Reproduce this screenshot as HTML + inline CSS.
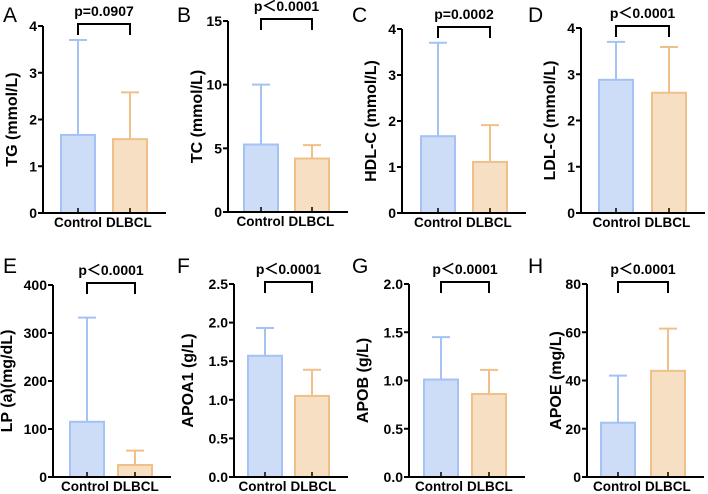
<!DOCTYPE html>
<html><head><meta charset="utf-8"><style>
body{margin:0;background:#fff;}
svg{display:block;font-family:"Liberation Sans",Arial,sans-serif;}
</style></head><body>
<svg id="fig" width="708" height="494" viewBox="0 0 708 494"></svg>
<script>
const panelLetters=["A","B","C","D","E","F","G","H"];
const yTitles=["TG (mmol/L)","TC (mmol/L)","HDL-C (mmol/L)","LDL-C (mmol/L)","LP (a)(mg/dL)","APOA1 (g/L)","APOB (g/L)","APOE (mg/L)"];
const pLabels=["p=0.0907","p\uFF1C0.0001","p=0.0002","p\uFF1C0.0001","p\uFF1C0.0001","p\uFF1C0.0001","p\uFF1C0.0001","p\uFF1C0.0001"];
const categories=["Control","DLBCL"];
const controlMeans=[1.67,5.3,1.67,2.88,115,1.57,1.01,22.5];
const controlUpper=[3.7,10,3.7,3.7,332,1.93,1.45,42];
const dlbclMeans=[1.58,4.2,1.11,2.6,25,1.05,0.86,44];
const dlbclUpper=[2.58,5.25,1.91,3.59,55,1.39,1.11,61.5];
const yMax=[4,15,4,4,400,2.5,2,80];
const yTicks=[[0,1,2,3,4],[0,5,10,15],[0,1,2,3,4],[0,1,2,3,4],[0,100,200,300,400],[0,0.5,1.0,1.5,2.0,2.5],[0,0.5,1.0,1.5,2.0],[0,20,40,60,80]];
const tickDecimals=[0,0,0,0,0,1,1,0];
const L=[
 {ax:43,top:26,bot:213,c1:78,c2:130,lx:3,ly:22},
 {ax:228,top:21,bot:212,c1:261,c2:312,lx:177,ly:22},
 {ax:402,top:29,bot:213,c1:438,c2:490,lx:352,ly:22},
 {ax:581,top:28,bot:213,c1:616,c2:669,lx:528,ly:22},
 {ax:53,top:285,bot:477,c1:87,c2:135,lx:3,ly:273},
 {ax:234,top:284,bot:477,c1:265,c2:312,lx:177,ly:273},
 {ax:409,top:284,bot:477,c1:441,c2:489,lx:352,ly:273},
 {ax:587,top:284,bot:477,c1:618,c2:668,lx:528,ly:273}
];
const svg=document.getElementById('fig');
const NS="http://www.w3.org/2000/svg";
function mk(tag,attrs,parent,text){const e=document.createElementNS(NS,tag);for(const k in attrs)e.setAttribute(k,attrs[k]);if(text!==undefined)e.textContent=text;(parent||svg).appendChild(e);return e;}
for(let i=0;i<8;i++){
 const l=L[i];
 const g=mk('g',{});
 
 
 const y=v=>l.bot-(v/yMax[i])*(l.bot-l.top);
 const bw=34;
 const t=mk('text',{x:l.lx,y:l.ly,'font-size':21,fill:'#000'},g,panelLetters[i]);
 
 
 const mid=(l.c1+l.c2)/2;
 const series=[[controlMeans[i],controlUpper[i],l.c1,'#cddcf7','#a4c2f4'],[dlbclMeans[i],dlbclUpper[i],l.c2,'#f6dfc2','#f0c08a']];
 series.forEach((s,k)=>{
  const r=mk('rect',{x:s[2]-bw/2,y:y(s[0]),width:bw,height:l.bot-y(s[0]),fill:s[3],stroke:s[4],'stroke-width':2},g);
  
  
  const eb=mk('path',{d:`M${s[2]},${y(s[0])}V${y(s[1])}M${s[2]-9},${y(s[1])}H${s[2]+9}`,stroke:s[4],'stroke-width':2,fill:'none'},g);
  
  
  mk('line',{x1:s[2],x2:s[2],y1:l.bot,y2:l.bot-5,stroke:'#000','stroke-width':1.5},g);
  const cl=mk('text',{x:k?mid+2:mid-2,y:l.bot+14,'font-size':13.5,'font-weight':'bold','text-anchor':k?'start':'end'},g,categories[k]);
  
  
 });
 const ax=mk('path',{d:`M${l.ax},${l.top}V${l.bot}H${l.c2+36}`,stroke:'#000','stroke-width':2,fill:'none'},g);
 
 
 yTicks[i].forEach(v=>{
  mk('line',{x1:l.ax-5,x2:l.ax,y1:y(v),y2:y(v),stroke:'#000','stroke-width':2},g);
  const tl=mk('text',{x:l.ax-6,y:y(v)+5,'font-size':14,'font-weight':'bold','text-anchor':'end'},g,v.toFixed(tickDecimals[i]));
  
  
 });
 const tw=(yTicks[i][yTicks[i].length-1]>=100||tickDecimals[i])?26:11;
 const tx=l.ax-tw-15, ty=(l.top+l.bot)/2;
 const yt=mk('text',{x:tx,y:ty,'font-size':16,'font-weight':'bold','text-anchor':'middle',transform:`rotate(-90 ${tx} ${ty})`},g,yTitles[i]);
 
 
 const by=l.top-2;
 const br=mk('path',{d:`M${l.c1},${by+11}V${by}H${l.c2}V${by+11}`,stroke:'#000','stroke-width':2,fill:'none'},g);
 
 
 const pt=mk('text',{x:mid,y:by-8,'font-size':14,'font-weight':'bold','text-anchor':'middle'},g,pLabels[i]);
 
 
}
</script>
</body></html>
